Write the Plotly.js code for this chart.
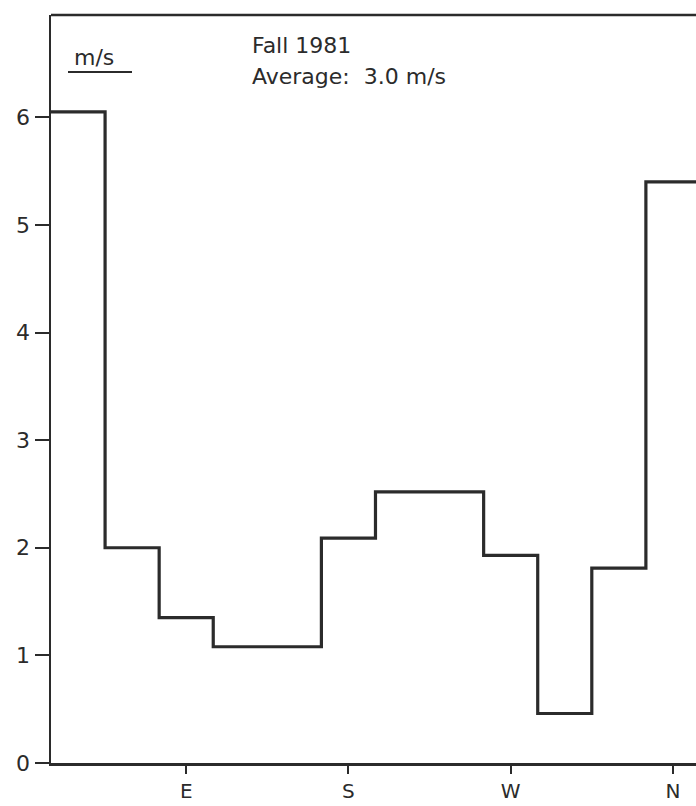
<!DOCTYPE html>
<html>
<head>
<meta charset="utf-8">
<script src="https://cdn.plot.ly/plotly-3.0.1.min.js"></script>
<style>html,body{margin:0;padding:0;background:#fff;}#chart{width:696px;height:806px;}</style>
</head>
<body>
<div id="chart"></div>
<script>
// Direction bins (degrees, start of each 30° sector)
const binStarts = [15, 45, 75, 105, 135, 165, 195, 225, 255, 285, 315, 345];
const binWidth = 30;
// Mean wind speed per sector (m/s)
const speeds = [6.05, 2.0, 1.35, 1.08, 1.08, 2.09, 2.52, 2.52, 1.93, 0.46, 1.81, 5.4];
// Direction tick labels
const tickVals = [90, 180, 270, 360];
const tickText = ['E', 'S', 'W', 'N'];
const yTicks = [0, 1, 2, 3, 4, 5, 6];

const xs = binStarts.concat([binStarts[binStarts.length - 1] + binWidth]);
const ys = speeds.concat([speeds[speeds.length - 1]]);

const ink = '#2b2b2b';
const font = {family: 'DejaVu Sans, sans-serif', size: 22, color: ink};
const xfont = {family: 'DejaVu Sans, sans-serif', size: 20, color: ink};

const trace = {
  x: xs, y: ys, type: 'scatter', mode: 'lines',
  line: {shape: 'hv', color: ink, width: 3.2},
  hoverinfo: 'skip', showlegend: false
};

const layout = {
  width: 696, height: 806,
  margin: {l: 51, r: 0, t: 15, b: 43},
  paper_bgcolor: '#fff', plot_bgcolor: '#fff',
  font: font,
  xaxis: {
    range: [15, 372.8], showgrid: false, zeroline: false,
    showline: true, linecolor: ink, linewidth: 2.5, mirror: false,
    ticks: 'outside', ticklen: 8, tickwidth: 2, tickcolor: ink,
    tickvals: tickVals, ticktext: tickText, tickfont: xfont
  },
  yaxis: {
    range: [0, 6.95], showgrid: false, zeroline: false,
    showline: true, linecolor: ink, linewidth: 2.5,
    ticks: 'outside', ticklen: 14, tickwidth: 2, tickcolor: ink,
    tickvals: yTicks, tickfont: font
  },
  shapes: [
    {type: 'line', xref: 'paper', yref: 'paper', x0: 0, x1: 1, y0: 1, y1: 1,
     line: {color: ink, width: 2.5}},
    {type: 'line', xref: 'paper', yref: 'paper',
     x0: (68 - 51) / 645, x1: (132 - 51) / 645,
     y0: (763 - 72) / 748, y1: (763 - 72) / 748,
     line: {color: ink, width: 2}}
  ],
  annotations: [
    {text: 'm/s', xref: 'paper', yref: 'paper', x: (72 - 51) / 645, y: (763 - 57) / 748,
     xanchor: 'left', yanchor: 'middle', showarrow: false, font: font},
    {text: 'Fall 1981', xref: 'paper', yref: 'paper', x: (250 - 51) / 645, y: (763 - 45) / 748,
     xanchor: 'left', yanchor: 'middle', showarrow: false, font: font},
    {text: 'Average:  3.0 m/s', xref: 'paper', yref: 'paper', x: (250 - 51) / 645, y: (763 - 76) / 748,
     xanchor: 'left', yanchor: 'middle', showarrow: false, font: font}
  ]
};

Plotly.newPlot('chart', [trace], layout, {displayModeBar: false, staticPlot: true});
</script>
</body>
</html>
